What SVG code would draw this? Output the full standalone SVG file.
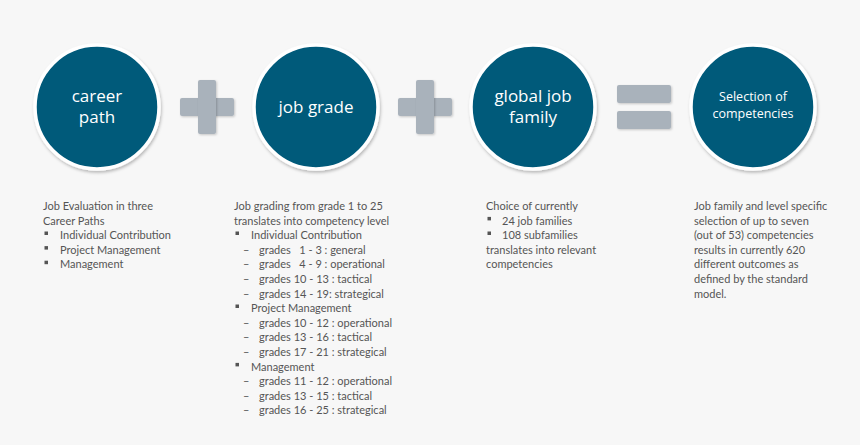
<svg xmlns="http://www.w3.org/2000/svg" width="860" height="445" viewBox="0 0 860 445">
<defs>
<filter id="sh" x="-20%" y="-20%" width="140%" height="140%">
<feDropShadow dx="1" dy="2" stdDeviation="1.5" flood-color="#000" flood-opacity="0.25"/>
</filter>
<filter id="sh2" x="-20%" y="-20%" width="140%" height="140%">
<feDropShadow dx="1" dy="1" stdDeviation="1" flood-color="#000" flood-opacity="0.2"/>
</filter>
</defs>
<style>
.c{fill:#005A7A;stroke:#fff;stroke-width:3.5;filter:url(#sh)}
.op{fill:#A9B2BB;filter:url(#sh2)}
.ct{font-family:"Open Sans","Liberation Sans",sans-serif;fill:#fff;text-anchor:middle}
.t{font-family:Lato,"Liberation Sans",sans-serif;font-size:11px;fill:#555}
.b{fill:#555}
</style>
<rect width="860" height="445" fill="#F7F7F7"/>
<g id="ops">
<rect class="op" x="180" y="98" width="54" height="18" rx="2"/>
<rect class="op" x="198" y="80" width="18" height="54" rx="2"/>
<rect class="op" x="398" y="98" width="54" height="18" rx="2"/>
<rect class="op" x="416" y="80" width="18" height="54" rx="2"/>
<rect class="op" x="617" y="85" width="54" height="18" rx="2"/>
<rect class="op" x="617" y="111" width="54" height="18" rx="2"/>
</g>
<g id="n1">
<circle class="c" cx="97" cy="107" r="62"/>
<text class="ct" font-size="17" x="97" y="102">career</text>
<text class="ct" font-size="17" x="97" y="123">path</text>
</g>
<g id="n2">
<circle class="c" cx="316" cy="107" r="62"/>
<text class="ct" font-size="17" x="316" y="113">job grade</text>
</g>
<g id="n3">
<circle class="c" cx="533" cy="107" r="62"/>
<text class="ct" font-size="17" x="533" y="102">global job</text>
<text class="ct" font-size="17" x="533" y="123">family</text>
</g>
<g id="n4">
<circle class="c" cx="753" cy="107" r="62"/>
<text class="ct" font-size="12.5" x="753" y="101">Selection of</text>
<text class="ct" font-size="12.5" x="753" y="118">competencies</text>
</g>
<g id="txt1">
<text class="t" x="43" y="210">Job Evaluation in three</text>
<text class="t" x="43" y="224.6">Career Paths</text>
<rect class="b" x="44.5" y="231.5" width="3.5" height="3.5"/>
<text class="t" x="60" y="239.2">Individual Contribution</text>
<rect class="b" x="44.5" y="246.1" width="3.5" height="3.5"/>
<text class="t" x="60" y="253.8">Project Management</text>
<rect class="b" x="44.5" y="260.7" width="3.5" height="3.5"/>
<text class="t" x="60" y="268.4">Management</text>
</g>
<g id="txt2">
<text class="t" x="234" y="210">Job grading from grade 1 to 25</text>
<text class="t" x="234" y="224.6">translates into competency level</text>
<rect class="b" x="235.5" y="231.5" width="3.5" height="3.5"/>
<text class="t" x="251" y="239.2">Individual Contribution</text>
<text class="t" x="243" y="253.8">–</text><text class="t" x="259" y="253.8" xml:space="preserve">grades   1 - 3 : general</text>
<text class="t" x="243" y="268.4">–</text><text class="t" x="259" y="268.4" xml:space="preserve">grades   4 - 9 : operational</text>
<text class="t" x="243" y="283">–</text><text class="t" x="259" y="283">grades 10 - 13 : tactical</text>
<text class="t" x="243" y="297.6">–</text><text class="t" x="259" y="297.6">grades 14 - 19: strategical</text>
<rect class="b" x="235.5" y="304.5" width="3.5" height="3.5"/>
<text class="t" x="251" y="312.2">Project Management</text>
<text class="t" x="243" y="326.8">–</text><text class="t" x="259" y="326.8">grades 10 - 12 : operational</text>
<text class="t" x="243" y="341.4">–</text><text class="t" x="259" y="341.4">grades 13 - 16 : tactical</text>
<text class="t" x="243" y="356">–</text><text class="t" x="259" y="356">grades 17 - 21 : strategical</text>
<rect class="b" x="235.5" y="362.9" width="3.5" height="3.5"/>
<text class="t" x="251" y="370.6">Management</text>
<text class="t" x="243" y="385.2">–</text><text class="t" x="259" y="385.2">grades 11 - 12 : operational</text>
<text class="t" x="243" y="399.8">–</text><text class="t" x="259" y="399.8">grades 13 - 15 : tactical</text>
<text class="t" x="243" y="414.4">–</text><text class="t" x="259" y="414.4">grades 16 - 25 : strategical</text>
</g>
<g id="txt3">
<text class="t" x="486" y="210">Choice of currently</text>
<rect class="b" x="487.5" y="216.9" width="3.5" height="3.5"/>
<text class="t" x="502" y="224.6">24 job families</text>
<rect class="b" x="487.5" y="231.5" width="3.5" height="3.5"/>
<text class="t" x="502" y="239.2">108 subfamilies</text>
<text class="t" x="486" y="253.8">translates into relevant</text>
<text class="t" x="486" y="268.4">competencies</text>
</g>
<g id="txt4">
<text class="t" x="694" y="210">Job family and level specific</text>
<text class="t" x="694" y="224.6">selection of up to seven</text>
<text class="t" x="694" y="239.2">(out of 53) competencies</text>
<text class="t" x="694" y="253.8">results in currently 620</text>
<text class="t" x="694" y="268.4">different outcomes as</text>
<text class="t" x="694" y="283">defined by the standard</text>
<text class="t" x="694" y="297.6">model.</text>
</g>
</svg>
